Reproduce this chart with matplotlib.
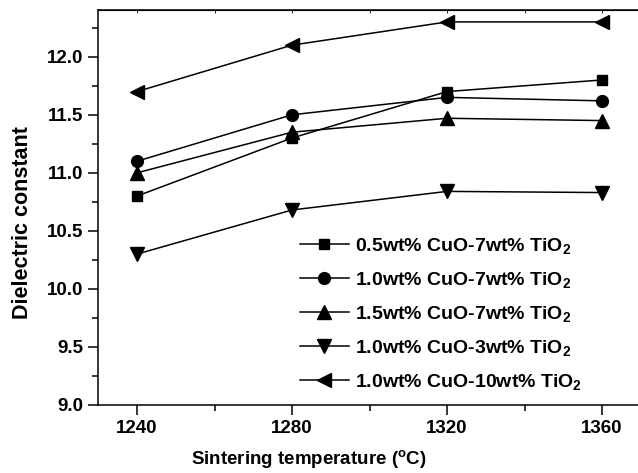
import numpy as np
import matplotlib
matplotlib.use("Agg")
from matplotlib import pyplot as plt
from matplotlib.ticker import MultipleLocator

plt.rcParams['font.family'] = ['Liberation Sans', 'DejaVu Sans']
plt.rcParams['font.weight'] = 'bold'
plt.rcParams['mathtext.fontset'] = 'custom'
plt.rcParams['mathtext.rm'] = 'Liberation Sans:bold'
plt.rcParams['mathtext.it'] = 'Liberation Sans:bold'
plt.rcParams['mathtext.bf'] = 'Liberation Sans:bold'

temps = [1240, 1280, 1320, 1360]
cuo05_ti7 = [10.8, 11.3, 11.7, 11.8]
cuo10_ti7 = [11.1, 11.5, 11.65, 11.62]
cuo15_ti7 = [11.0, 11.35, 11.47, 11.45]
cuo10_ti3 = [10.3, 10.68, 10.84, 10.83]
cuo10_ti10 = [11.7, 12.1, 12.3, 12.3]

labels = [r'0.5wt% CuO-7wt% TiO$_2$',
          r'1.0wt% CuO-7wt% TiO$_2$',
          r'1.5wt% CuO-7wt% TiO$_2$',
          r'1.0wt% CuO-3wt% TiO$_2$',
          r'1.0wt% CuO-10wt% TiO$_2$']

fig = plt.figure(figsize=(6.38, 4.73), dpi=100)
ax = fig.add_axes([0.154, 0.1438, 0.8504, 0.8344])

ax.plot(temps, cuo05_ti7, 'k-s', lw=1.1, ms=7, label=labels[0])
ax.plot(temps, cuo10_ti7, 'k-o', lw=1.1, ms=8.5, label=labels[1])
ax.plot(temps, cuo15_ti7, 'k-^', lw=1.1, ms=9.5, label=labels[2])
ax.plot(temps, cuo10_ti3, 'k-v', lw=1.1, ms=9.5, label=labels[3])
ax.plot(temps, cuo10_ti10, 'k-<', lw=1.1, ms=9.5, label=labels[4])

ax.set_xlim(1230, 1370)
ax.set_ylim(9.0, 12.4)
ax.xaxis.set_major_locator(MultipleLocator(40))
ax.xaxis.set_minor_locator(MultipleLocator(20))
ax.yaxis.set_major_locator(MultipleLocator(0.5))
ax.yaxis.set_minor_locator(MultipleLocator(0.25))
ax.tick_params(which='major', direction='out', length=7, width=1.1, labelsize=13.5)
ax.tick_params(which='minor', direction='out', length=4, width=1.1)
# tiny inward ticks along the top
ax.secondary_xaxis('top').tick_params(which='both', direction='in', length=2.5,
                                      width=0.6, labeltop=False)
ax.spines['right'].set_visible(False)
for s in ax.spines.values():
    s.set_linewidth(1.1)

ax.set_xlabel(r'Sintering temperature ($^\mathrm{o}$C)', fontsize=13.5, fontweight='bold')
ax.xaxis.set_label_coords(0.389, -0.11)
ax.set_ylabel('Dielectric constant', fontsize=15.5, fontweight='bold')
ax.yaxis.set_label_coords(-0.12, 0.463)

ax.legend(loc='center left', bbox_to_anchor=(0.372, 0.231), frameon=False,
          fontsize=14, handlelength=2.5, handletextpad=0.3, labelspacing=0.72,
          borderpad=0, borderaxespad=0)

fig.savefig('out.png', dpi=100)
